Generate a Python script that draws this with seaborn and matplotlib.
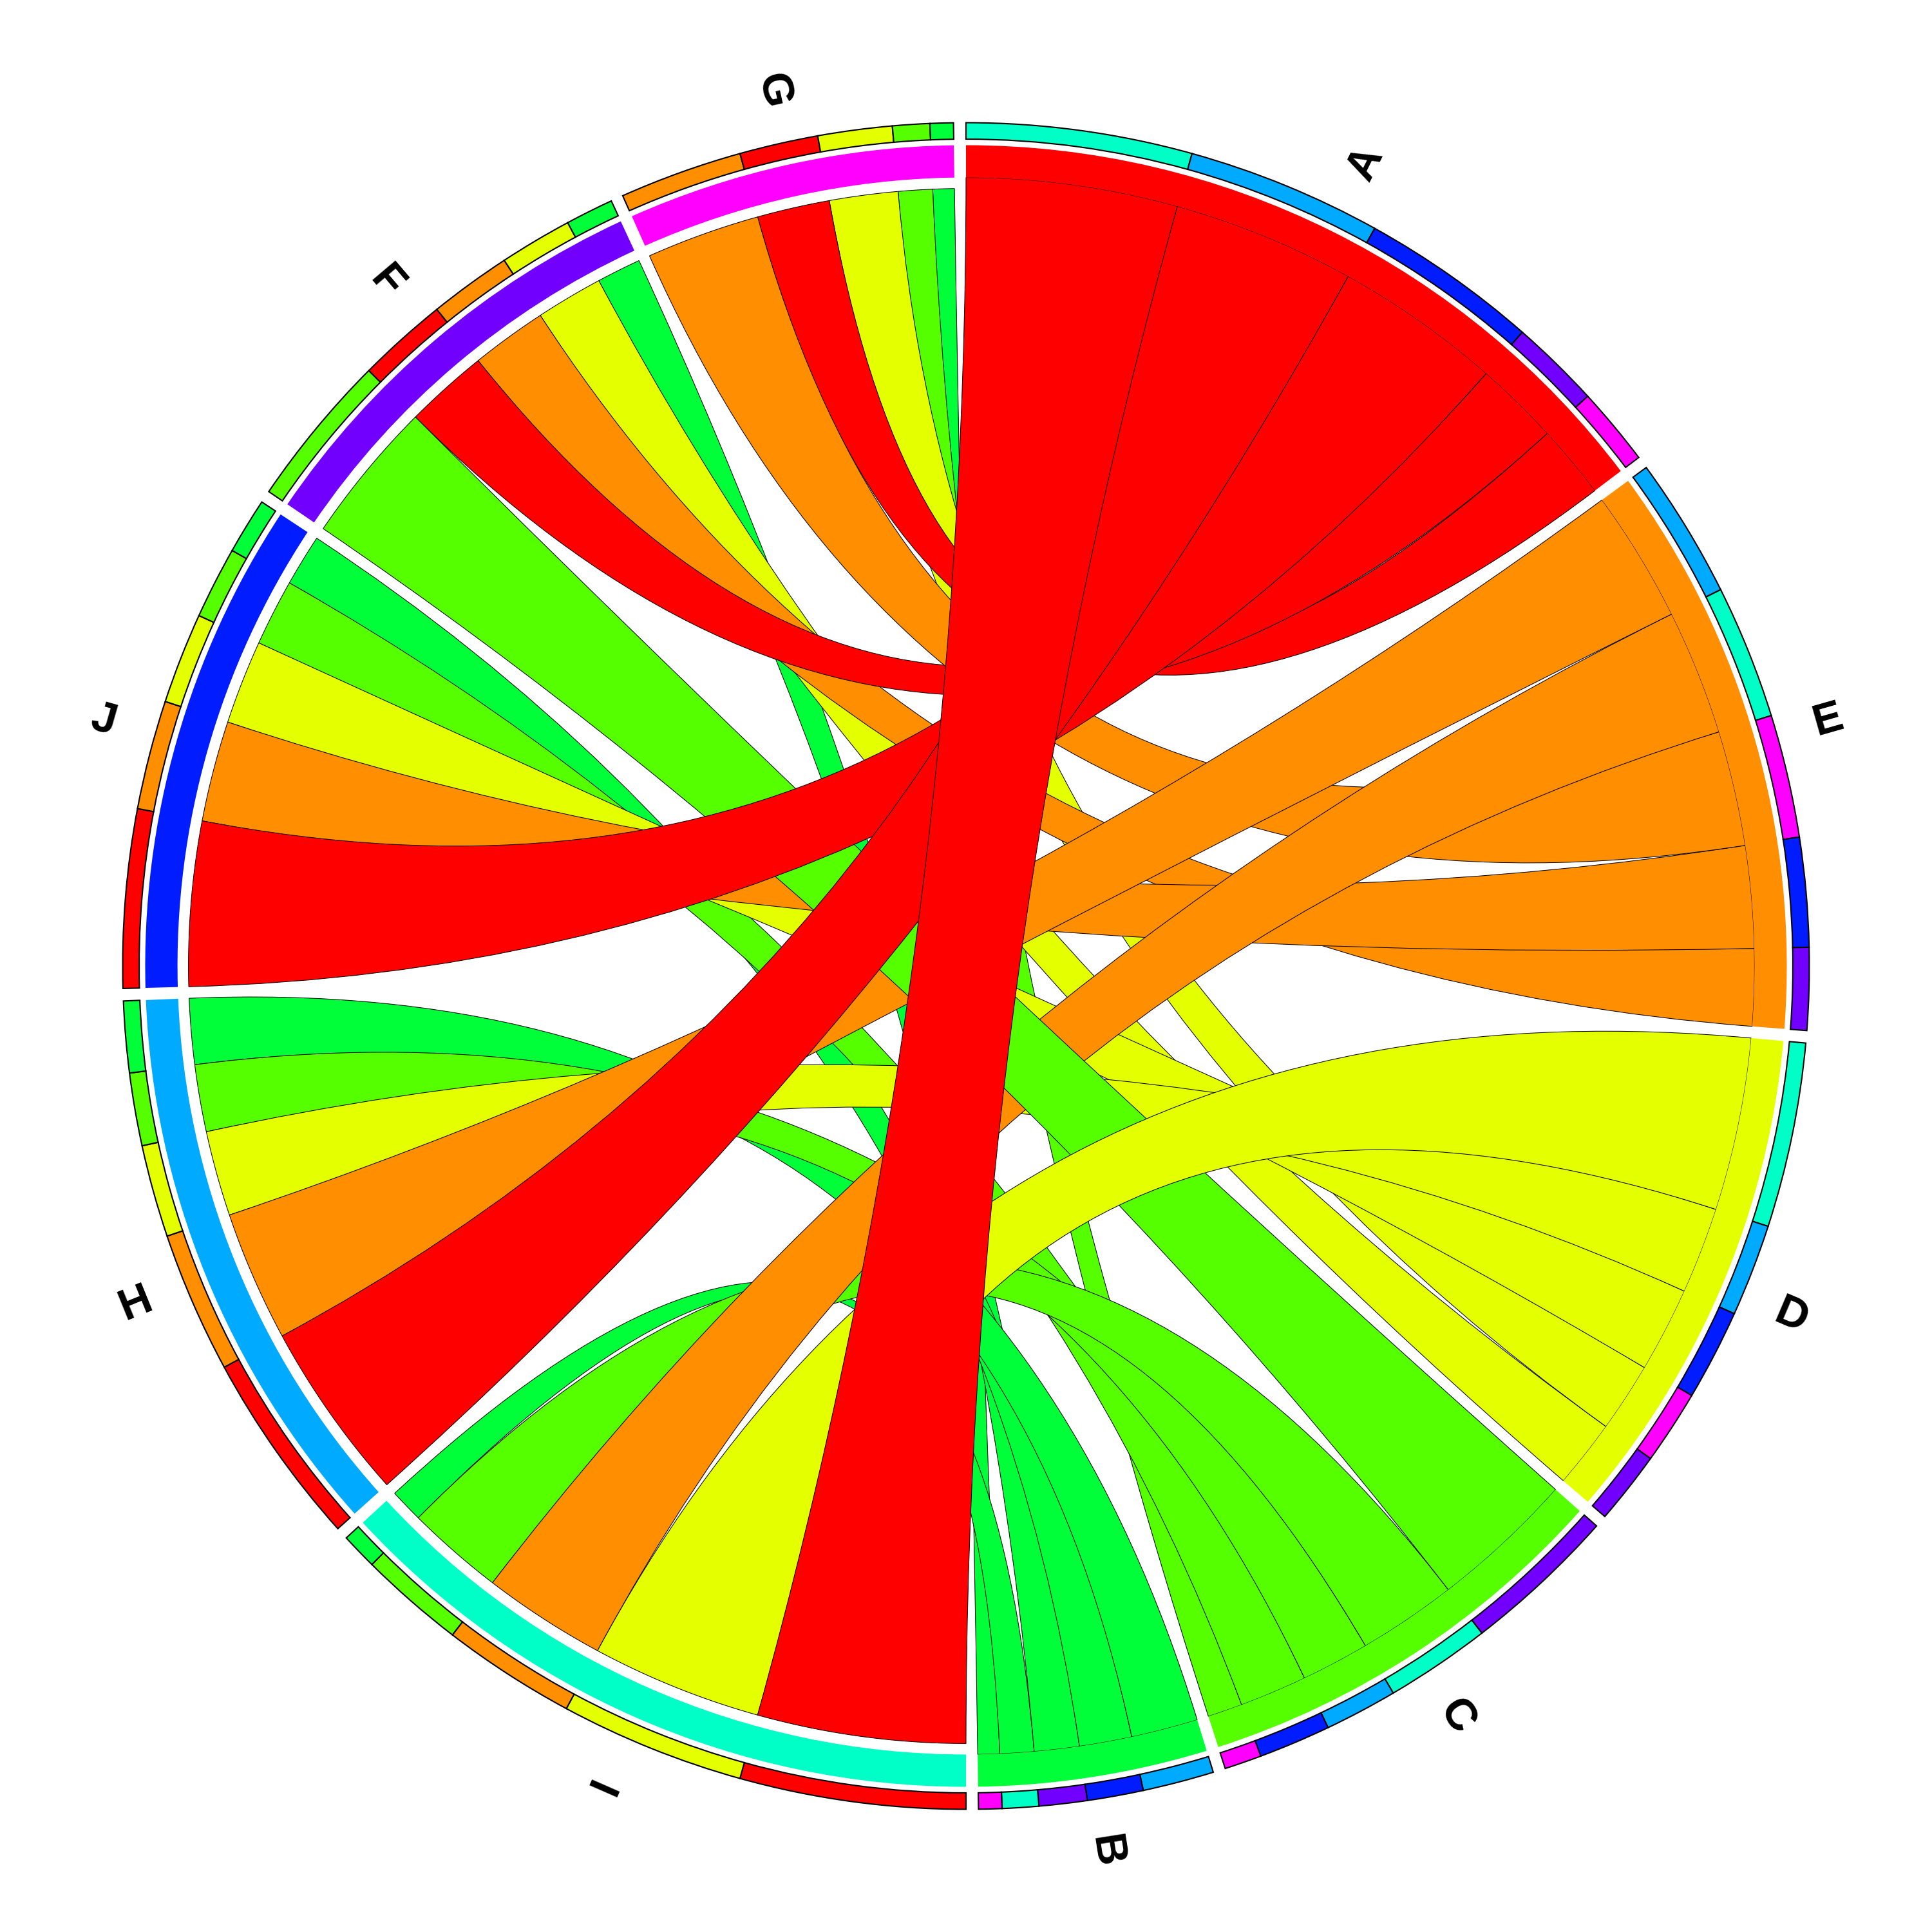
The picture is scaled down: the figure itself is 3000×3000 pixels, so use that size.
import numpy as np
import matplotlib
matplotlib.use('Agg')
import matplotlib.pyplot as plt
import seaborn as sns
from matplotlib.patches import Wedge, PathPatch
from matplotlib.path import Path
import colorsys

# ---------------- data ----------------
sectors = ['A', 'E', 'D', 'C', 'B', 'I', 'H', 'J', 'F', 'G']
sources = ['A', 'E', 'D', 'C', 'B']
targets = ['I', 'H', 'J', 'F', 'G']
# flows from each source to targets I, H, J, F, G
flow_A = [15.5, 13.4, 12.25, 6.2, 5.4]
flow_E = [9.2, 9.7, 7.5, 5.65, 8.45]
flow_D = [12.7, 6.35, 6.25, 5.0, 5.1]
flow_C = [7.25, 5.0, 4.95, 10.65, 2.55]
flow_B = [2.5, 4.9, 3.85, 3.3, 1.6]
flows = {'A': flow_A, 'E': flow_E, 'D': flow_D, 'C': flow_C, 'B': flow_B}

# ---------------- style ----------------
sns.set_theme(style='white')
plt.rcParams['font.family'] = ['Liberation Sans Narrow', 'Liberation Sans', 'DejaVu Sans']

hues = np.linspace(0, 300, len(sectors))
palette = sns.color_palette([colorsys.hsv_to_rgb(h / 360.0, 1.0, 1.0) for h in hues])
color = dict(zip(sectors, palette))

GAP = 0.85
R_RING_OUT, R_RING_IN = 1.0, 0.9805
R_BAND_OUT, R_BAND_IN = 0.9733, 0.935
R_SRC, R_TGT = 0.935, 0.922
R_LABEL = 1.063

value = {}
for s in sources:
    for t, v in zip(targets, flows[s]):
        value[(s, t)] = v

total = sum(value.values())
unit = (360.0 - GAP * len(sectors)) / (2 * total)

sector_total = {}
for s in sources:
    sector_total[s] = sum(value[(s, t)] for t in targets)
for t in targets:
    sector_total[t] = sum(value[(s, t)] for s in sources)

sector_start = {}
cur = 0.0
for name in sectors:
    sector_start[name] = cur
    cur += sector_total[name] * unit + GAP

pos = {}
for name in sectors:
    if name in sources:
        items = [(t, value[(name, t)]) for t in targets]
    else:
        items = [(s, value[(s, name)]) for s in sources]
    items = sorted(items, key=lambda p: -p[1])
    c = sector_start[name]
    for partner, v in items:
        w = v * unit
        pos[(name, partner)] = (c, c + w)
        c += w


def xy(theta, r):
    phi = np.deg2rad(90.0 - theta)
    return (r * np.cos(phi), r * np.sin(phi))


def wedge(ax, t0, t1, r_out, r_in, fc, ec='none', lw=0.0, z=2):
    ax.add_patch(Wedge((0, 0), r_out, 90 - t1, 90 - t0, width=r_out - r_in,
                       facecolor=fc, edgecolor=ec, linewidth=lw, zorder=z))


def ribbon(a0, a1, b0, b1, rs, rt):
    verts, codes = [], []
    for i, th in enumerate(np.linspace(a0, a1, 80)):
        verts.append(xy(th, rs))
        codes.append(Path.MOVETO if i == 0 else Path.LINETO)
    verts += [(0, 0), xy(b0, rt)]
    codes += [Path.CURVE3, Path.CURVE3]
    for th in np.linspace(b0, b1, 80)[1:]:
        verts.append(xy(th, rt))
        codes.append(Path.LINETO)
    verts += [(0, 0), xy(a0, rs), xy(a0, rs)]
    codes += [Path.CURVE3, Path.CURVE3, Path.CLOSEPOLY]
    return Path(verts, codes)


fig = plt.figure(figsize=(10, 10), dpi=300, facecolor='white')
ax = fig.add_axes([0, 0, 1, 1])
L = 1500.0 / 1309.5
ax.set_xlim(-L, L)
ax.set_ylim(-L, L)
ax.set_aspect('equal')
ax.axis('off')

# chords: largest link drawn on top
order = sorted(value.keys(), key=lambda k: value[k])
for i, (s, t) in enumerate(order):
    a0, a1 = pos[(s, t)]
    b0, b1 = pos[(t, s)]
    p = ribbon(a0, a1, b0, b1, R_SRC, R_TGT)
    ax.add_patch(PathPatch(p, facecolor=color[s], edgecolor='black',
                           linewidth=0.25, zorder=1 + i * 0.01))

# sector bands
for name in sectors:
    t0 = sector_start[name]
    t1 = t0 + sector_total[name] * unit
    wedge(ax, t0, t1, R_BAND_OUT, R_BAND_IN, color[name], z=3)

# outer proportion ring
for (name, partner), (t0, t1) in pos.items():
    wedge(ax, t0, t1, R_RING_OUT, R_RING_IN, color[partner], ec='black', lw=0.5, z=4)

# labels
for name in sectors:
    t0 = sector_start[name]
    t1 = t0 + sector_total[name] * unit
    mid = (t0 + t1) / 2
    rot = 90 - mid if mid < 180 else 270 - mid
    x, y = xy(mid, R_LABEL)
    ax.text(x, y, name, fontsize=16.5, fontweight='bold', color='black',
            rotation=rot, rotation_mode='anchor', ha='center', va='center', zorder=5)

fig.savefig('out.png', dpi=300, facecolor='white')
